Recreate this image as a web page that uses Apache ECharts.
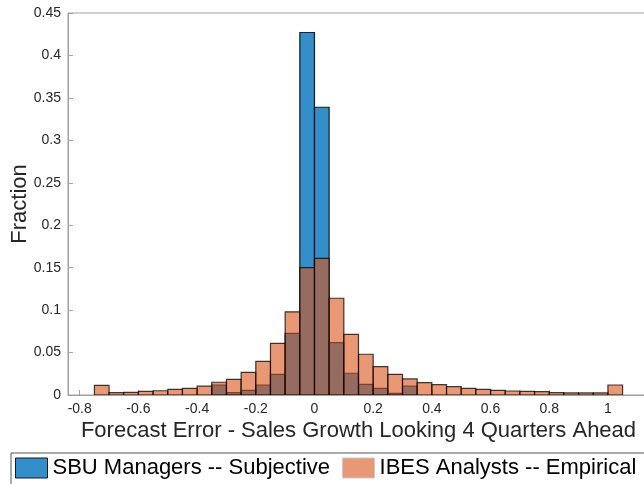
<!DOCTYPE html>
<html>
<head>
<meta charset="utf-8">
<script src="https://cdn.jsdelivr.net/npm/echarts@6/dist/echarts.min.js"></script>
<style>
  html, body { margin: 0; padding: 0; background: #fff; }
  #chart { width: 644px; height: 484px; }
</style>
</head>
<body>
<div id="chart"></div>
<script>
// Histogram bins: left edge of each bin, all bins 0.05 wide
const binWidth = 0.05;

// SBU managers, subjective forecast errors
const sbuBinLeft = [-0.35, -0.30, -0.25, -0.20, -0.15, -0.10, -0.05, 0.00, 0.05, 0.10, 0.15, 0.20, 0.25, 0.30];
const sbuFraction = [0.0118, 0.0027, 0.0055, 0.0118, 0.0244, 0.0727, 0.4270, 0.3390, 0.0617, 0.0256, 0.0126, 0.0079, 0.0020, 0.0106];

// IBES analysts, empirical forecast errors
const ibesBinLeft = [-0.75, -0.70, -0.65, -0.60, -0.55, -0.50, -0.45, -0.40, -0.35, -0.30, -0.25, -0.20,
                     -0.15, -0.10, -0.05, 0.00, 0.05, 0.10, 0.15, 0.20, 0.25, 0.30, 0.35, 0.40,
                     0.45, 0.50, 0.55, 0.60, 0.65, 0.70, 0.75, 0.80, 0.85, 0.90, 0.95, 1.00];
const ibesFraction = [0.0114, 0.0027, 0.0031, 0.0043, 0.0050, 0.0067, 0.0079, 0.0105, 0.0150, 0.0185, 0.0267, 0.0397,
                      0.0609, 0.0980, 0.1500, 0.1610, 0.1140, 0.0715, 0.0480, 0.0334, 0.0244, 0.0189, 0.0145, 0.0122,
                      0.0098, 0.0079, 0.0067, 0.0055, 0.0047, 0.0043, 0.0039, 0.0027, 0.0024, 0.0024, 0.0024, 0.0118];

// Axis ticks
const xTicks = [-0.8, -0.6, -0.4, -0.2, 0, 0.2, 0.4, 0.6, 0.8, 1];
const yTicks = [0, 0.05, 0.1, 0.15, 0.2, 0.25, 0.3, 0.35, 0.4, 0.45];

const seriesNames = ['SBU Managers -- Subjective', 'IBES Analysts -- Empirical'];
const blueFill = 'rgba(0, 114, 189, 0.8)';
const orangeFill = 'rgba(217, 83, 25, 0.6)';
const FONT = '"Liberation Sans", Arial, Helvetica, sans-serif';

function histData(lefts, vals) {
  return lefts.map((l, i) => [l, l + binWidth, vals[i]]);
}

function renderBin(fill, stroke) {
  return function (params, api) {
    const p0 = api.coord([api.value(0), api.value(2)]);
    const p1 = api.coord([api.value(1), 0]);
    return {
      type: 'rect',
      shape: { x: p0[0], y: p0[1], width: p1[0] - p0[0], height: p1[1] - p0[1] },
      style: { fill: fill, stroke: stroke, lineWidth: 1.2 }
    };
  };
}

const chart = echarts.init(document.getElementById('chart'), null, { renderer: 'canvas' });

chart.setOption({
  animation: false,
  backgroundColor: '#ffffff',
  textStyle: { fontFamily: FONT },
  grid: {
    left: 68, top: 13, width: 581, height: 382,
    containLabel: false,
    outerBoundsMode: 'none',
    show: true, borderColor: '#a0a0a0', borderWidth: 1, backgroundColor: 'transparent'
  },
  xAxis: {
    type: 'value',
    min: -0.84, max: 1.14,
    name: 'Forecast Error - Sales Growth Looking 4 Quarters Ahead',
    nameLocation: 'middle',
    nameGap: 25,
    nameMoveOverlap: false,
    nameTextStyle: { fontSize: 22, color: '#262626', fontFamily: FONT },
    axisLine: { show: true, onZero: false, lineStyle: { color: '#a0a0a0', width: 1 } },
    axisTick: { show: true, inside: true, length: 5, customValues: xTicks, lineStyle: { color: '#a0a0a0' } },
    axisLabel: { customValues: xTicks, fontSize: 14, color: '#262626', margin: 7, fontFamily: FONT },
    splitLine: { show: false }
  },
  yAxis: {
    type: 'value',
    min: 0, max: 0.45, interval: 0.05,
    name: 'Fraction',
    nameLocation: 'middle',
    nameGap: 37,
    nameMoveOverlap: false,
    nameTextStyle: { fontSize: 22, color: '#262626', fontFamily: FONT },
    axisLine: { show: true, onZero: false, lineStyle: { color: '#a0a0a0', width: 1 } },
    axisTick: { show: true, inside: true, length: 5, customValues: yTicks, lineStyle: { color: '#a0a0a0' } },
    axisLabel: { customValues: yTicks, fontSize: 14, color: '#262626', margin: 7, fontFamily: FONT },
    splitLine: { show: false }
  },
  legend: {
    left: 11, top: 453, width: 720,
    orient: 'horizontal',
    itemWidth: 32, itemHeight: 20, itemGap: 12,
    padding: [4, 30, 6, 4],
    backgroundColor: '#ffffff',
    borderColor: '#555555', borderWidth: 1,
    textStyle: { fontSize: 22, color: '#000000', fontFamily: FONT, padding: [0, 0, 0, 0] },
    data: [
      { name: seriesNames[0], icon: 'rect', itemStyle: { color: blueFill, borderColor: '#1a1a1a', borderWidth: 1 } },
      { name: seriesNames[1], icon: 'rect', itemStyle: { color: orangeFill, borderColor: '#c8c8c8', borderWidth: 1 } }
    ]
  },
  series: [
    {
      name: seriesNames[0],
      type: 'custom',
      renderItem: renderBin(blueFill, 'rgba(0,0,0,0.85)'),
      itemStyle: { color: blueFill },
      encode: { x: [0, 1], y: 2 },
      data: histData(sbuBinLeft, sbuFraction),
      clip: true
    },
    {
      name: seriesNames[1],
      type: 'custom',
      renderItem: renderBin(orangeFill, 'rgba(0,0,0,0.75)'),
      itemStyle: { color: orangeFill },
      encode: { x: [0, 1], y: 2 },
      data: histData(ibesBinLeft, ibesFraction),
      clip: true
    }
  ]
});
</script>
</body>
</html>
